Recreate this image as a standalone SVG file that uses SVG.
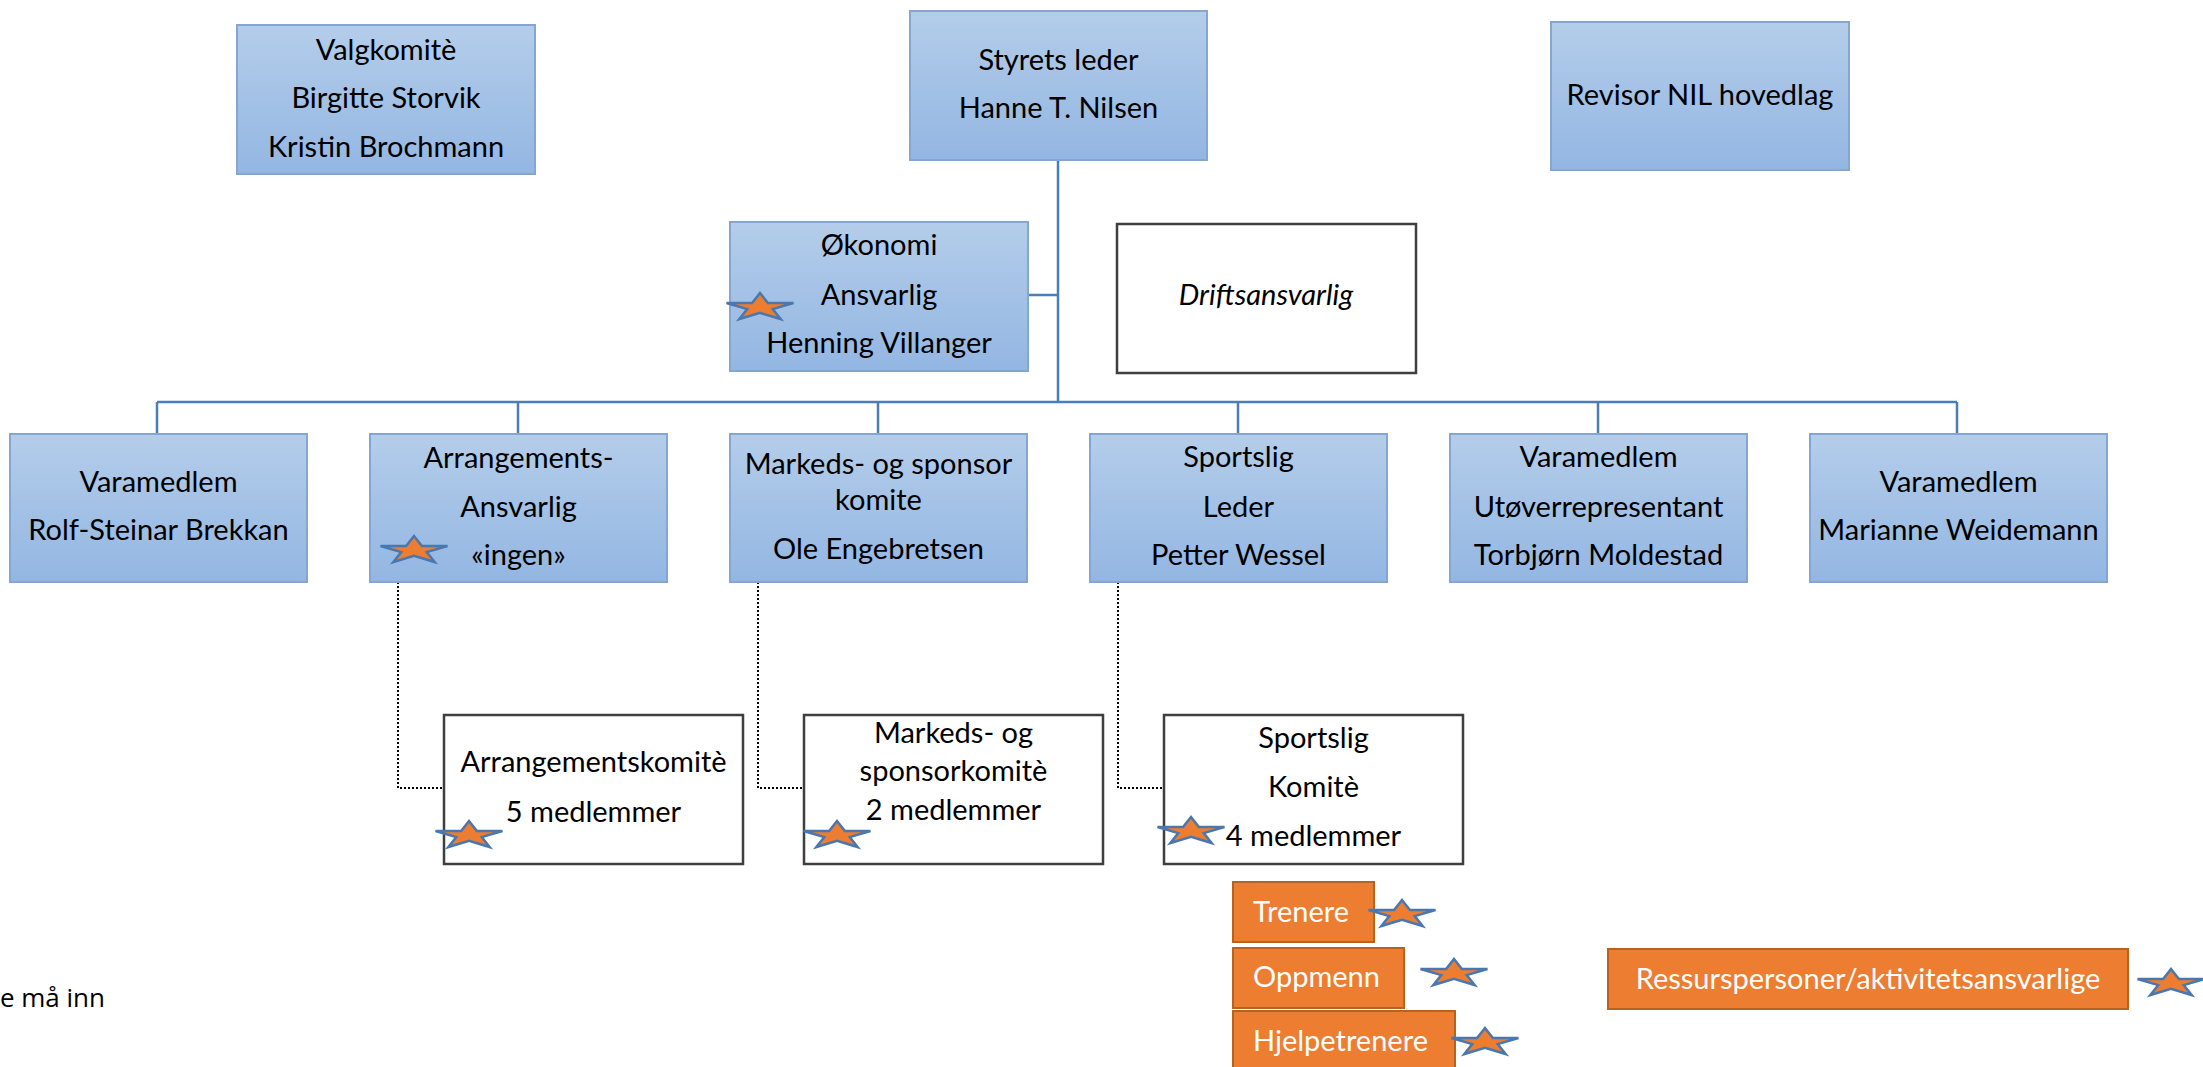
<svg xmlns="http://www.w3.org/2000/svg" width="2203" height="1067" viewBox="0 0 2203 1067">
<style>
.blue{fill:url(#gb);stroke:#86a6d2;stroke-width:2}
.white{fill:#fff;stroke:#3f3f3f;stroke-width:2.5}
.org{fill:#ed7d31;stroke:#b8621f;stroke-width:2}
.t{font-family:Lato,"Open Sans",sans-serif;font-size:29px;fill:#000;text-anchor:middle}
.ti{font-style:italic}
.tw{font-family:Lato,"Open Sans",sans-serif;font-size:29px;fill:#fff}
.tn{font-family:"Open Sans",sans-serif;font-size:26px;fill:#000;text-anchor:end}
.con{fill:none;stroke:#4a7ebb;stroke-width:2.5}
.dot{fill:none;stroke:#000;stroke-width:2;stroke-dasharray:2 2}
</style>
<defs>
<linearGradient id="gb" x1="0" y1="0" x2="0" y2="1">
<stop offset="0" stop-color="#b4cdea"/>
<stop offset="1" stop-color="#93b6e2"/>
</linearGradient>
<polygon id="star" points="0,-13 7.9,-3.05 33.5,-3.05 12.7,3.1 20.7,13.05 0,6.9 -20.7,13.05 -12.7,3.1 -33.5,-3.05 -7.9,-3.05" fill="#ed7d31" stroke="#4a78ae" stroke-width="2.5" stroke-linejoin="miter"/>
</defs>
<rect width="2203" height="1067" fill="#fff"/>

<g id="connectors">
<path class="con" d="M1058,160V402M157,402H1957M1028,295H1058M157,402V434M518,402V434M878,402V434M1238,402V434M1598,402V434M1957,402V434"/>
<path class="dot" d="M398,582V788H444M758,582V788H804M1118,582V788H1164"/>
</g>

<g id="valgkomite">
<rect class="blue" x="237" y="25" width="298" height="149"/>
<text class="t" x="386" y="60">Valgkomitè</text>
<text class="t" x="386" y="108">Birgitte Storvik</text>
<text class="t" x="386" y="157">Kristin Brochmann</text>
</g>
<g id="styrets-leder">
<rect class="blue" x="910" y="11" width="297" height="149"/>
<text class="t" x="1058.5" y="70">Styrets leder</text>
<text class="t" x="1058.5" y="118">Hanne T. Nilsen</text>
</g>
<g id="revisor">
<rect class="blue" x="1551" y="22" width="298" height="148"/>
<text class="t" x="1700" y="105">Revisor NIL hovedlag</text>
</g>
<g id="okonomi">
<rect class="blue" x="730" y="222" width="298" height="149"/>
<text class="t" x="879" y="255">Økonomi</text>
<text class="t" x="879" y="305">Ansvarlig</text>
<text class="t" x="879" y="353">Henning Villanger</text>
<use href="#star" x="760" y="306"/>
</g>
<g id="driftsansvarlig">
<rect class="white" x="1117" y="224" width="299" height="149"/>
<text class="t ti" x="1266" y="305">Driftsansvarlig</text>
</g>

<g id="varamedlem1">
<rect class="blue" x="10" y="434" width="297" height="148"/>
<text class="t" x="158.5" y="492">Varamedlem</text>
<text class="t" x="158.5" y="540">Rolf-Steinar Brekkan</text>
</g>
<g id="arrangement">
<rect class="blue" x="370" y="434" width="297" height="148"/>
<text class="t" x="518.5" y="468">Arrangements-</text>
<text class="t" x="518.5" y="517">Ansvarlig</text>
<text class="t" x="518.5" y="565">«ingen»</text>
<use href="#star" x="414" y="549"/>
</g>
<g id="markeds">
<rect class="blue" x="730" y="434" width="297" height="148"/>
<text class="t" x="878.5" y="474">Markeds- og sponsor</text>
<text class="t" x="878.5" y="510">komite</text>
<text class="t" x="878.5" y="559">Ole Engebretsen</text>
</g>
<g id="sportslig">
<rect class="blue" x="1090" y="434" width="297" height="148"/>
<text class="t" x="1238.5" y="467">Sportslig</text>
<text class="t" x="1238.5" y="517">Leder</text>
<text class="t" x="1238.5" y="565">Petter Wessel</text>
</g>
<g id="varamedlem2">
<rect class="blue" x="1450" y="434" width="297" height="148"/>
<text class="t" x="1598.5" y="467">Varamedlem</text>
<text class="t" x="1598.5" y="517">Utøverrepresentant</text>
<text class="t" x="1598.5" y="565">Torbjørn Moldestad</text>
</g>
<g id="varamedlem3">
<rect class="blue" x="1810" y="434" width="297" height="148"/>
<text class="t" x="1958.5" y="492">Varamedlem</text>
<text class="t" x="1958.5" y="540">Marianne Weidemann</text>
</g>

<g id="arrangementskomite">
<rect class="white" x="444" y="715" width="299" height="149"/>
<text class="t" x="593.5" y="772">Arrangementskomitè</text>
<text class="t" x="593.5" y="822">5 medlemmer</text>
<use href="#star" x="469" y="834"/>
</g>
<g id="markedskomite">
<rect class="white" x="804" y="715" width="299" height="149"/>
<text class="t" x="953.5" y="743">Markeds- og</text>
<text class="t" x="953.5" y="781">sponsorkomitè</text>
<text class="t" x="953.5" y="820">2 medlemmer</text>
<use href="#star" x="837" y="834"/>
</g>
<g id="sportsligkomite">
<rect class="white" x="1164" y="715" width="299" height="149"/>
<text class="t" x="1313.5" y="748">Sportslig</text>
<text class="t" x="1313.5" y="797">Komitè</text>
<text class="t" x="1313.5" y="846">4 medlemmer</text>
<use href="#star" x="1191" y="830"/>
</g>

<g id="trenere">
<rect class="org" x="1233" y="882" width="141" height="60"/>
<text class="tw" x="1253" y="922">Trenere</text>
<use href="#star" x="1402" y="913"/>
</g>
<g id="oppmenn">
<rect class="org" x="1233" y="948" width="171" height="60"/>
<text class="tw" x="1253" y="987">Oppmenn</text>
<use href="#star" x="1454" y="972"/>
</g>
<g id="hjelpetrenere">
<rect class="org" x="1233" y="1011" width="222" height="62"/>
<text class="tw" x="1253" y="1051">Hjelpetrenere</text>
<use href="#star" x="1485" y="1041"/>
</g>
<g id="ressurspersoner">
<rect class="org" x="1608" y="949" width="520" height="60"/>
<text class="tw" x="1868" y="989" text-anchor="middle">Ressurspersoner/aktivitetsansvarlige</text>
<use href="#star" x="2171" y="982"/>
</g>

<g id="note">
<text class="tn" x="105" y="1007">e må inn</text>
</g>
</svg>
